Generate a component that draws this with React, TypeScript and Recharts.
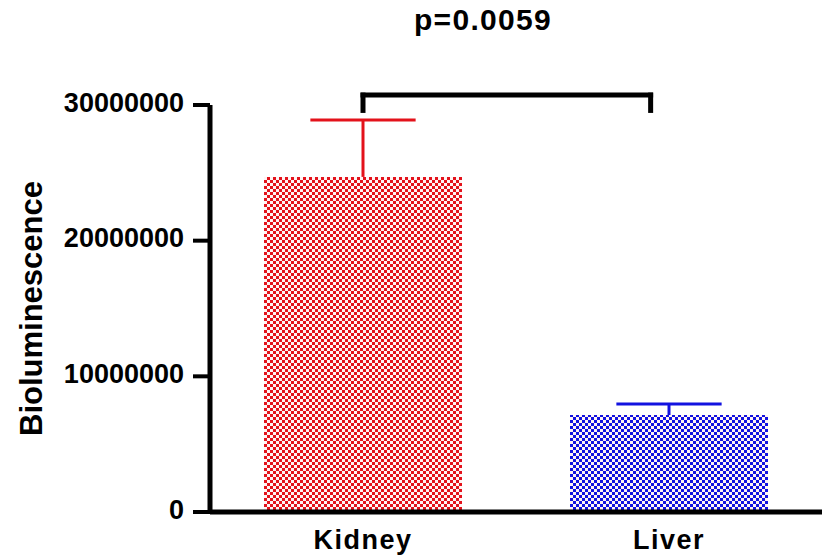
import { BarChart, Bar, Cell, XAxis, YAxis, ReferenceLine } from "recharts";

document.body.style.margin = "0";

const groups = ["Kidney", "Liver"];
const means = [24700000, 7150000];
const sds = [4190000, 810000];
const barColors = ["#e3121b", "#1212e0"];
const yTicks = [0, 10000000, 20000000, 30000000];
const pValue = "p=0.0059";

// positions on the hidden numeric x axis (0..1 across the plot)
const centers = groups.map((_, i) => (i + 0.5) / groups.length);
const bracketX = [0.25, 0.72];
const bracketTop = 30730000;
const bracketEnd = 29600000;
const capHalf = 0.086;

const data = groups.map((g, i) => ({ group: g, value: means[i] }));

const font = "'Liberation Sans', Arial, sans-serif";
const tickStyle = { fill: "#000", fontSize: 27, fontWeight: "bold", fontFamily: font };

export default function App() {
  return (
    <div style={{ position: "relative", width: 824, height: 558, background: "#fff", fontFamily: font }}>
      <div
        style={{
          position: "absolute",
          top: 5,
          left: 383,
          width: 200,
          textAlign: "center",
          fontSize: 30,
          lineHeight: "30px",
          fontWeight: "bold",
          letterSpacing: 1.3,
        }}
      >
        {pValue}
      </div>
      <BarChart width={824} height={558} data={data} margin={{ top: 105, right: 2, bottom: 0, left: 0 }}>
        <defs>
          {barColors.map((c, i) => (
            <pattern key={i} id={`check${i}`} width="6" height="6" patternUnits="userSpaceOnUse">
              <rect width="6" height="6" fill="#fff4f4" />
              <rect width="3" height="3" fill={c} />
              <rect x="3" y="3" width="3" height="3" fill={c} />
            </pattern>
          ))}
        </defs>
        <XAxis
          dataKey="group"
          height={46}
          axisLine={{ stroke: "#000", strokeWidth: 5 }}
          tickLine={false}
          tickSize={0}
          tickMargin={18}
          tick={{ ...tickStyle, letterSpacing: 1.5 }}
        />
        <XAxis xAxisId="pos" type="number" domain={[0, 1]} allowDataOverflow hide />
        <YAxis
          width={210}
          domain={[0, 30000000]}
          ticks={yTicks}
          interval={0}
          axisLine={{ stroke: "#000", strokeWidth: 5 }}
          tickLine={{ stroke: "#000", strokeWidth: 4 }}
          tickSize={17}
          tickMargin={9}
          tick={{ ...tickStyle, dy: -3 }}
          label={{
            value: "Bioluminescence",
            angle: -90,
            position: "insideLeft",
            offset: 31,
            style: { textAnchor: "middle", fill: "#000", fontSize: 31, fontWeight: "bold", fontFamily: font },
          }}
        />
        <Bar dataKey="value" barSize={198} isAnimationActive={false}>
          {data.map((_, i) => (
            <Cell key={i} fill={`url(#check${i})`} />
          ))}
        </Bar>
        {groups.map((g, i) => (
          <ReferenceLine
            key={`err${g}`}
            xAxisId="pos"
            ifOverflow="visible"
            stroke={barColors[i]}
            strokeWidth={3}
            segment={[
              { x: centers[i], y: means[i] },
              { x: centers[i], y: means[i] + sds[i] },
            ]}
          />
        ))}
        {groups.map((g, i) => (
          <ReferenceLine
            key={`cap${g}`}
            xAxisId="pos"
            ifOverflow="visible"
            stroke={barColors[i]}
            strokeWidth={3}
            segment={[
              { x: centers[i] - capHalf, y: means[i] + sds[i] },
              { x: centers[i] + capHalf, y: means[i] + sds[i] },
            ]}
          />
        ))}
        <ReferenceLine
          xAxisId="pos"
          ifOverflow="visible"
          stroke="#000"
          strokeWidth={5}
          strokeLinecap="square"
          segment={[
            { x: bracketX[0], y: bracketTop },
            { x: bracketX[1], y: bracketTop },
          ]}
        />
        {bracketX.map((bx) => (
          <ReferenceLine
            key={`br${bx}`}
            xAxisId="pos"
            ifOverflow="visible"
            stroke="#000"
            strokeWidth={5}
            strokeLinecap="square"
            segment={[
              { x: bx, y: bracketTop },
              { x: bx, y: bracketEnd },
            ]}
          />
        ))}
      </BarChart>
    </div>
  );
}
